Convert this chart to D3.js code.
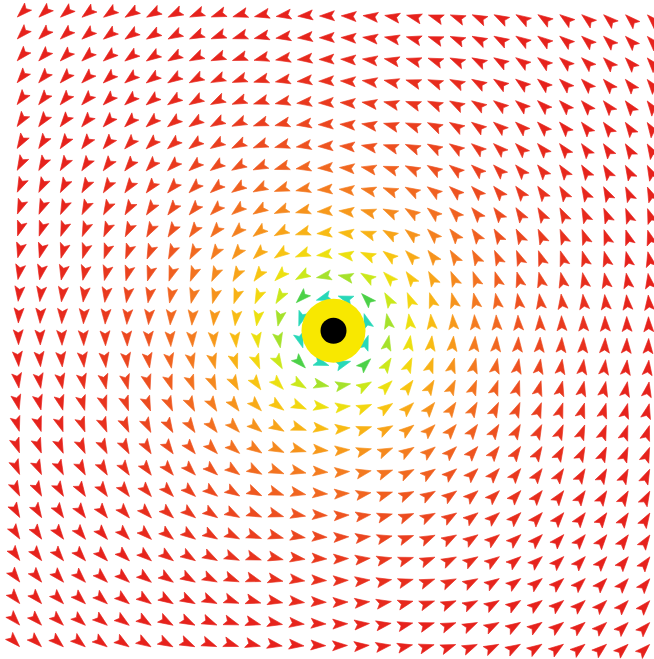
<!DOCTYPE html>
<html>
<head>
<meta charset="utf-8">
<script src="https://cdn.jsdelivr.net/npm/d3@7"></script>
<style>
  html, body { margin: 0; padding: 0; background: #ffffff; }
  svg { display: block; }
</style>
</head>
<body>
<svg id="chart" width="654" height="659"></svg>
<script>
// Grid coordinates (grid units, vortex at 0,0)
const gridCols = [-14.5,-13.5,-12.5,-11.5,-10.5,-9.5,-8.5,-7.5,-6.5,-5.5,-4.5,-3.5,-2.5,-1.5,-0.5,
                  0.5,1.5,2.5,3.5,4.5,5.5,6.5,7.5,8.5,9.5,10.5,11.5,12.5,13.5,14.5];
const gridRows = [-14.5,-13.5,-12.5,-11.5,-10.5,-9.5,-8.5,-7.5,-6.5,-5.5,-4.5,-3.5,-2.5,-1.5,-0.5,
                  0.5,1.5,2.5,3.5,4.5,5.5,6.5,7.5,8.5,9.5,10.5,11.5,12.5,13.5,14.5];
// Vortex centre
const vortex = [0, 0];
// Colour stops by distance from the vortex (grid units)
const colorDist  = [1.6, 2.1, 2.6, 3.2, 4.0, 5.0, 6.5, 8.5, 11, 14];
const colorStops = ["#28d8b8", "#48d048", "#b0e428", "#e4ec10", "#f8d010",
                    "#f8a818", "#f47c20", "#ee5420", "#e8341e", "#e6221c"];

const svg = d3.select("#chart");
const x = d3.scaleLinear().domain([-14.5, 14.5]).range([18.5, 648.5]);
const y = d3.scaleLinear().domain([-14.5, 14.5]).range([16, 645.5]);
const color = d3.scaleLinear().domain(colorDist).range(colorStops).clamp(true);

const cx = x(vortex[0]), cy = y(vortex[1]);

const points = [];
gridRows.forEach(r => gridCols.forEach(c => {
  const dx = c - vortex[0], dy = r - vortex[1];
  const vx = dy, vy = -dx;           // counter-clockwise rotation on screen
  points.push({c, r, d: Math.hypot(dx, dy), angle: Math.atan2(vy, vx) * 180 / Math.PI});
}));

const glyph = "M7,0L-8,-5L-5,0L-8,5Z";

const field = svg.append("g").attr("transform", `rotate(0.7,${cx},${cy})`);

field.selectAll("path")
  .data(points)
  .join("path")
  .attr("d", glyph)
  .attr("transform", d => `translate(${x(d.c)},${y(d.r)}) rotate(${d.angle})`)
  .attr("fill", d => color(d.d))
  .attr("stroke", d => color(d.d))
  .attr("stroke-width", 0.6)
  .attr("stroke-linejoin", "round");

svg.append("circle")
  .attr("cx", cx).attr("cy", cy)
  .attr("r", 32).attr("fill", "#f8e800");
svg.append("circle")
  .attr("cx", cx).attr("cy", cy)
  .attr("r", 13).attr("fill", "#000000");
</script>
</body>
</html>
